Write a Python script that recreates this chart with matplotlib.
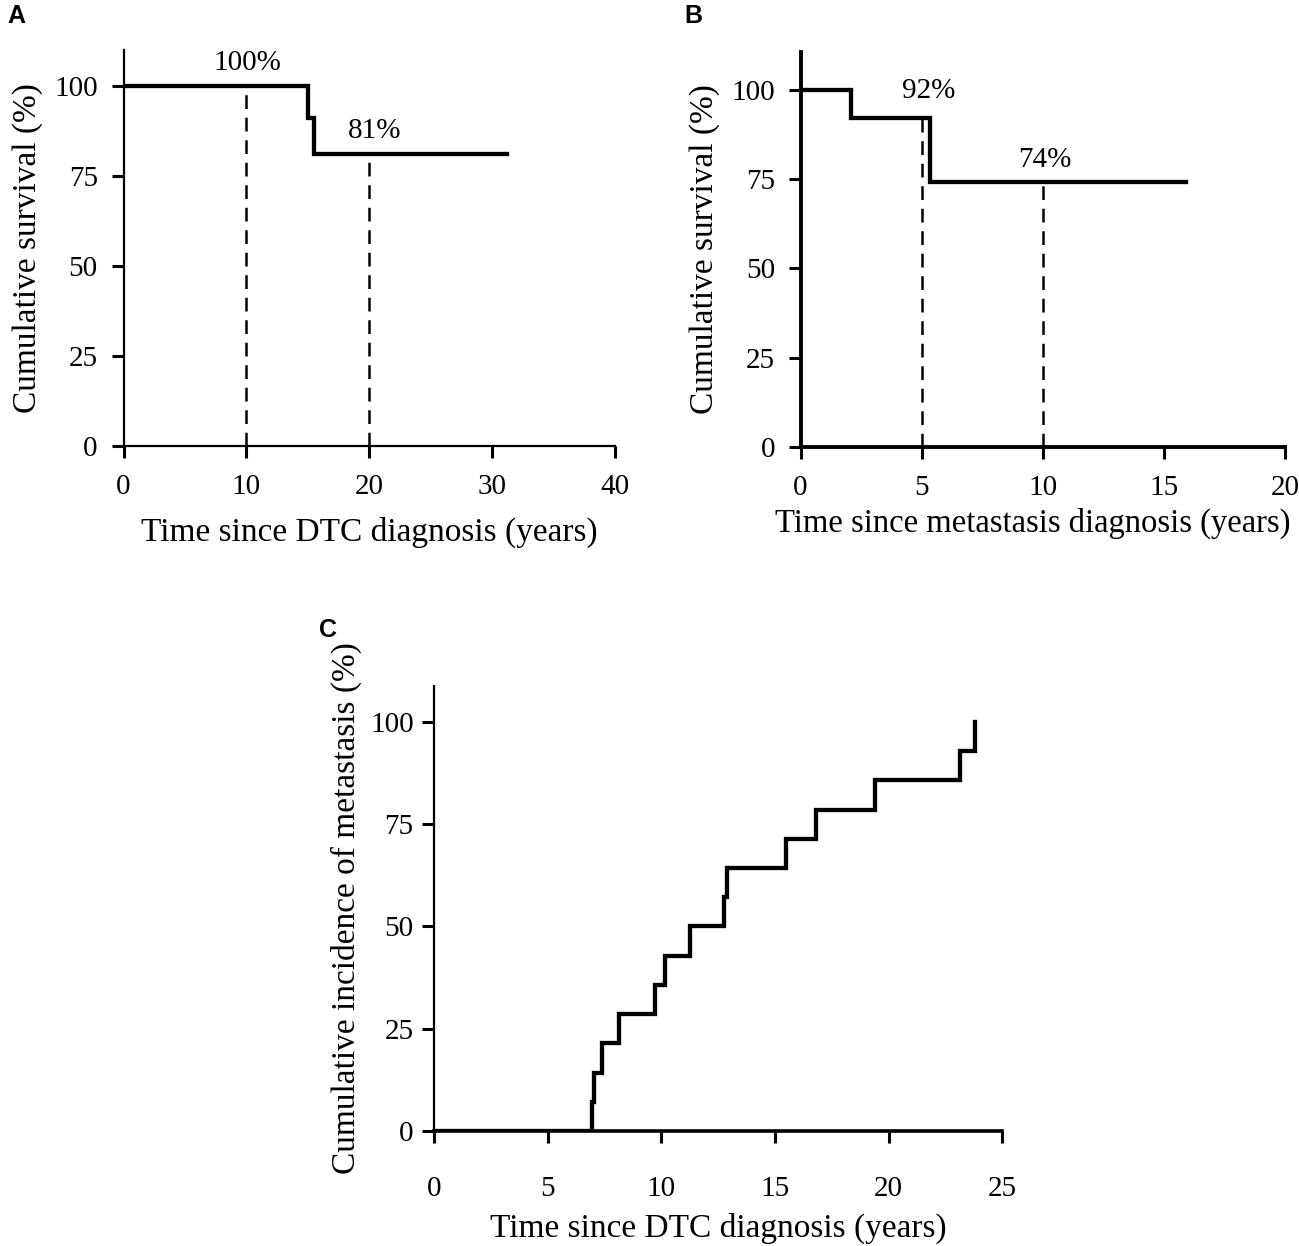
import numpy as np
import matplotlib
matplotlib.use("Agg")
import matplotlib.pyplot as plt

plt.rcParams['font.family'] = ['Liberation Serif', 'DejaVu Serif']

# panel A: overall survival since DTC diagnosis
time_a = [0, 15.0, 15.5, 31.2]
surv_a = [100, 91, 81, 81]
mark_x_a = [10, 20]
mark_y_a = [100, 81]
mark_txt_a = ['100%', '81%']
mark_pos_a = [(10.1, 106.4), (20.4, 87.5)]

# panel B: survival since metastasis diagnosis
time_b = [0, 2.1, 5.35, 15.9]
surv_b = [100, 92, 74, 74]
mark_x_b = [5, 10]
mark_y_b = [92, 74]
mark_txt_b = ['92%', '74%']
mark_pos_b = [(5.3, 99.5), (10.1, 80.4)]

# panel C: cumulative incidence of metastasis
time_c = [0, 6.95, 7.05, 7.41, 8.16, 9.74, 10.15, 11.27, 12.75, 12.9,
          15.47, 16.79, 19.39, 23.15, 23.8]
inc_c = [0, 7.14, 14.29, 21.43, 28.57, 35.71, 42.86, 50.0, 57.14, 64.29,
         71.43, 78.57, 85.71, 92.86, 100.0]

yticks = [0, 25, 50, 75, 100]

W, H = 1299, 1246
fig = plt.figure(figsize=(W / 100, H / 100), dpi=100)


def px_axes(x0, x1, y0, y1):
    # pixel box -> figure fraction
    return fig.add_axes([x0 / W, 1 - y0 / H, (x1 - x0) / W, (y0 - y1) / H])


def style(ax, spine_lw, xspine_lw=None, xpad=12, ypad=10):
    for s in ['top', 'right']:
        ax.spines[s].set_visible(False)
    ax.spines['left'].set_linewidth(spine_lw)
    ax.spines['bottom'].set_linewidth(xspine_lw or spine_lw)
    ax.tick_params(axis='both', direction='out', length=8.5, width=2.2,
                   labelsize=21, colors='black')
    ax.tick_params(axis='x', pad=xpad)
    ax.tick_params(axis='y', pad=ypad)
    ax.set_yticks(yticks)


curve = dict(color='black', lw=3.1, drawstyle='steps-post', solid_joinstyle='miter')
dash = dict(color='black', lw=1.8, linestyle=(0, (5.5, 3.5)))

# A
axA = px_axes(123.5, 615, 446, 50)
axA.plot(time_a, surv_a, **curve)
for x, y in zip(mark_x_a, mark_y_a):
    axA.plot([x, x], [0, y], **dash)
for t, (x, y) in zip(mark_txt_a, mark_pos_a):
    axA.text(x, y, t, fontsize=21, ha='center', va='center')
axA.set_xlim(0, 40)
axA.set_ylim(0, 110)
axA.set_xticks([0, 10, 20, 30, 40])
style(axA, 1.6)
axA.set_xlabel('Time since DTC diagnosis (years)', fontsize=24, labelpad=12)
axA.set_ylabel('Cumulative survival (%)', fontsize=24, labelpad=8)

# B
axB = px_axes(800.6, 1285, 447, 52)
axB.plot(time_b, surv_b, **curve)
for x, y in zip(mark_x_b, mark_y_b):
    axB.plot([x, x], [0, y], **dash)
for t, (x, y) in zip(mark_txt_b, mark_pos_b):
    axB.text(x, y, t, fontsize=21, ha='center', va='center')
axB.set_xlim(0, 20)
axB.set_ylim(0, 110.5)
axB.set_xticks([0, 5, 10, 15, 20])
style(axB, 2.8)
axB.set_xlabel('Time since metastasis diagnosis (years)', fontsize=23.5)
axB.xaxis.set_label_coords(0.48, -0.155)
axB.set_ylabel('Cumulative survival (%)', fontsize=24, labelpad=8)

# C
axC = px_axes(433.8, 1002.4, 1131, 686)
axC.plot(time_c, inc_c, **curve)
axC.set_xlim(0, 25)
axC.set_ylim(0, 108.8)
axC.set_xticks([0, 5, 10, 15, 20, 25])
style(axC, 1.6, xspine_lw=2.6, xpad=24, ypad=6)
axC.set_xlabel('Time since DTC diagnosis (years)', fontsize=24, labelpad=8)
axC.set_ylabel('Cumulative incidence of metastasis (%)', fontsize=24, labelpad=6)

for lab, (x, y) in zip(['A', 'B', 'C'], [(16.7, 16), (693.7, 16), (327.7, 630)]):
    fig.text(x / W, 1 - y / H, lab, fontsize=18, fontweight='bold',
             family='Liberation Sans', ha='center', va='center')

fig.savefig('out.png', dpi=100)
